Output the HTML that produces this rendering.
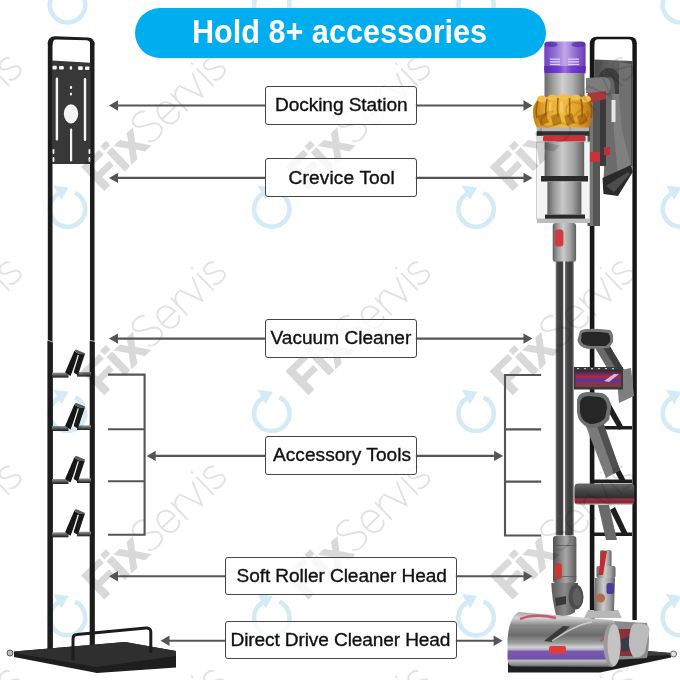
<!DOCTYPE html>
<html><head><meta charset="utf-8">
<style>
html,body{margin:0;padding:0;background:#fff;}
#c{position:relative;width:680px;height:680px;overflow:hidden;background:#fff;font-family:"Liberation Sans",sans-serif;}
svg{position:absolute;left:0;top:0;}
.pill{position:absolute;left:134.5px;top:8px;width:411px;height:50px;border-radius:25px;background:#00adee;}
.pt{position:absolute;left:0;top:0;width:680px;text-align:left;}
.ht{position:absolute;left:192px;top:11px;font-weight:bold;font-size:34px;color:#fff;white-space:nowrap;transform-origin:0 0;transform:scaleX(0.900);line-height:40px;}
.box{position:absolute;box-sizing:border-box;border:1.8px solid #454545;border-radius:3px;background:rgba(255,255,255,0.8);}
.lbl{position:absolute;font-size:19.1px;color:#111;white-space:nowrap;line-height:22px;-webkit-text-stroke:0.35px #111;}
</style></head><body>
<div id="c">
<svg id="bg" width="680" height="680" viewBox="0 0 680 680">
<defs>
 <linearGradient id="shelfg" x1="0" y1="0" x2="0" y2="1"><stop offset="0" stop-color="#9a9a9a"/><stop offset="0.5" stop-color="#5a5a5a"/><stop offset="1" stop-color="#1a1a1a"/></linearGradient>
 <linearGradient id="plateg" x1="0" y1="0" x2="1" y2="0"><stop offset="0" stop-color="#2a2a2a"/><stop offset="0.5" stop-color="#3c3c3c"/><stop offset="1" stop-color="#2c2c2c"/></linearGradient>
 <linearGradient id="baseg" x1="0" y1="0" x2="0" y2="1"><stop offset="0" stop-color="#2e2e2e"/><stop offset="1" stop-color="#1a1a1a"/></linearGradient>
</defs>
<g id="leftstand">
 <!-- frame -->
 <rect x="47.8" y="42" width="4.7" height="609" fill="#1c1c1c"/>
 <rect x="90" y="42" width="4.5" height="605" fill="#1c1c1c"/>
 <path d="M47.8,44 Q47.8,36.2 55,36.2 L88,37.6 Q94.5,38 94.5,45 L90.5,45 Q90.5,40.3 86,40.3 L56,39.5 Q52.5,39.5 52.5,45 Z" fill="#1c1c1c"/>
 <!-- plate -->
 <polygon points="52,60.4 90.5,62.7 90.5,164 52,164" fill="#383838"/>
 <g fill="#f4f4f4">
  <rect x="52.5" y="65.8" width="4.3" height="3.6" rx="1"/>
  <rect x="59" y="66" width="4.8" height="3.6" rx="1"/>
  <ellipse cx="70.9" cy="67.9" rx="1.3" ry="1.9"/>
  <rect x="78" y="66.3" width="4.8" height="3.6" rx="1"/>
  <rect x="85" y="66.5" width="4.4" height="3.6" rx="1"/>
  <rect x="55.7" y="77.5" width="2.4" height="63" rx="1.2"/>
  <rect x="83.8" y="78" width="2.4" height="63" rx="1.2"/>
  <ellipse cx="71" cy="87.4" rx="1.1" ry="1.6"/>
  <ellipse cx="71" cy="94" rx="1.1" ry="1.6"/>
  <ellipse cx="71" cy="113.8" rx="7.2" ry="9.6"/>
  <rect x="70" y="128.5" width="2.2" height="33" rx="1.1"/>
  <rect x="52.6" y="149" width="1.8" height="5" rx="0.9"/>
  <rect x="52.6" y="157" width="1.8" height="5" rx="0.9"/>
  <rect x="88.5" y="149" width="1.8" height="5" rx="0.9"/>
  <rect x="88.5" y="157" width="1.8" height="5" rx="0.9"/>
 </g>
 <rect x="47.5" y="341" width="5.3" height="310" fill="#1c1c1c"/>
 <rect x="89.7" y="341" width="5" height="306" fill="#1c1c1c"/>
 <polygon points="47.3,339.8 53.1,341.8 53.1,342.6 47.3,340.6" fill="#e8e8e8"/>
 <polygon points="89.5,339.8 95,341.2 95,342 89.5,340.6" fill="#e8e8e8"/>
 <!-- hooks -->
 <g transform="translate(0,374.8)">
  <rect x="52" y="-2.2" width="16.5" height="5" fill="url(#shelfg)"/>
  <rect x="77" y="-2.8" width="14" height="4.6" fill="url(#shelfg)"/>
  <polygon points="65.1,-2.2 70.5,1.2 79.5,-20.5 74.3,-23.8" fill="#161616"/>
  <polygon points="76.5,-21 84.9,-20.7 77.9,0.4 73.5,-2.2" fill="#1a1a1a"/>
  <line x1="72.2" y1="-0.2" x2="78.3" y2="-19.8" stroke="#f2f2f2" stroke-width="1.3"/>
  <polygon points="74.3,-23.8 76,-25.4 85,-21.6 84.9,-20.6 79.5,-20.5" fill="#5a5a5a"/>
 </g>
 <g transform="translate(0,428.2)">
  <rect x="52" y="-2.2" width="16.5" height="5" fill="url(#shelfg)"/>
  <rect x="77" y="-2.8" width="14" height="4.6" fill="url(#shelfg)"/>
  <polygon points="65.1,-2.2 70.5,1.2 79.5,-20.5 74.3,-23.8" fill="#161616"/>
  <polygon points="76.5,-21 84.9,-20.7 77.9,0.4 73.5,-2.2" fill="#1a1a1a"/>
  <line x1="72.2" y1="-0.2" x2="78.3" y2="-19.8" stroke="#f2f2f2" stroke-width="1.3"/>
  <polygon points="74.3,-23.8 76,-25.4 85,-21.6 84.9,-20.6 79.5,-20.5" fill="#5a5a5a"/>
 </g>
 <g transform="translate(0,481.2)">
  <rect x="52" y="-2.2" width="16.5" height="5" fill="url(#shelfg)"/>
  <rect x="77" y="-2.8" width="14" height="4.6" fill="url(#shelfg)"/>
  <polygon points="65.1,-2.2 70.5,1.2 79.5,-20.5 74.3,-23.8" fill="#161616"/>
  <polygon points="76.5,-21 84.9,-20.7 77.9,0.4 73.5,-2.2" fill="#1a1a1a"/>
  <line x1="72.2" y1="-0.2" x2="78.3" y2="-19.8" stroke="#f2f2f2" stroke-width="1.3"/>
  <polygon points="74.3,-23.8 76,-25.4 85,-21.6 84.9,-20.6 79.5,-20.5" fill="#5a5a5a"/>
 </g>
 <g transform="translate(0,534.5)">
  <rect x="52" y="-2.2" width="16.5" height="5" fill="url(#shelfg)"/>
  <rect x="77" y="-2.8" width="14" height="4.6" fill="url(#shelfg)"/>
  <polygon points="65.1,-2.2 70.5,1.2 79.5,-20.5 74.3,-23.8" fill="#161616"/>
  <polygon points="76.5,-21 84.9,-20.7 77.9,0.4 73.5,-2.2" fill="#1a1a1a"/>
  <line x1="72.2" y1="-0.2" x2="78.3" y2="-19.8" stroke="#f2f2f2" stroke-width="1.3"/>
  <polygon points="74.3,-23.8 76,-25.4 85,-21.6 84.9,-20.6 79.5,-20.5" fill="#5a5a5a"/>
 </g>
 <!-- base -->
 <polygon points="14,651.5 125,642 176,651 176,667.5 97,673 14,657" fill="#1e1e1e"/>
 <polygon points="14,651.5 125,642 176,651 176,656 97,667 20,654" fill="#2f2f2f"/>
 <circle cx="10" cy="653" r="3" fill="#bbb" stroke="#555" stroke-width="1"/>
 <!-- wire guard -->
 <path d="M73,660 L73,639 Q73,634.8 77,634.6 L146,628 Q150.8,627.8 150.8,632 L150.8,653" fill="none" stroke="#1c1c1c" stroke-width="3"/>
</g>
<defs>
 <linearGradient id="gcyl" x1="0" y1="0" x2="1" y2="0">
  <stop offset="0" stop-color="#6a6a6a"/><stop offset="0.2" stop-color="#9a9a9a"/><stop offset="0.45" stop-color="#d0d0d0"/><stop offset="0.7" stop-color="#b0b0b0"/><stop offset="1" stop-color="#6a6a6a"/>
 </linearGradient>
 <linearGradient id="gcyl2" x1="0" y1="0" x2="1" y2="0">
  <stop offset="0" stop-color="#606060"/><stop offset="0.2" stop-color="#9a9a9a"/><stop offset="0.45" stop-color="#cacaca"/><stop offset="0.75" stop-color="#a0a0a0"/><stop offset="1" stop-color="#5e5e5e"/>
 </linearGradient>
 <linearGradient id="gpur" x1="0" y1="0" x2="1" y2="0">
  <stop offset="0" stop-color="#7040c0"/><stop offset="0.3" stop-color="#9a78d8"/><stop offset="0.5" stop-color="#c0a8e8"/><stop offset="0.7" stop-color="#9a78d8"/><stop offset="1" stop-color="#6a3ab8"/>
 </linearGradient>
 <linearGradient id="gpur2" x1="0" y1="0" x2="1" y2="0">
  <stop offset="0" stop-color="#5a28b0"/><stop offset="0.35" stop-color="#7a3ad8"/><stop offset="0.5" stop-color="#a070e0"/><stop offset="0.65" stop-color="#7a3ad8"/><stop offset="1" stop-color="#5a28b0"/>
 </linearGradient>
 <linearGradient id="ggold" x1="0" y1="0" x2="1" y2="0">
  <stop offset="0" stop-color="#c08018"/><stop offset="0.2" stop-color="#e8a52a"/><stop offset="0.5" stop-color="#f0bc40"/><stop offset="0.8" stop-color="#e09a22"/><stop offset="1" stop-color="#b07014"/>
 </linearGradient>
 <linearGradient id="gwand" x1="0" y1="0" x2="1" y2="0">
  <stop offset="0" stop-color="#9a9a9a"/><stop offset="0.08" stop-color="#4a4a4c"/><stop offset="0.3" stop-color="#3c3c3e"/><stop offset="0.4" stop-color="#4a4a4a"/><stop offset="0.44" stop-color="#e0e0e0"/><stop offset="0.51" stop-color="#f4f4f4"/><stop offset="0.55" stop-color="#555"/><stop offset="0.7" stop-color="#434345"/><stop offset="0.9" stop-color="#3a3a3a"/><stop offset="1" stop-color="#8a8a8a"/>
 </linearGradient>
 <linearGradient id="gplate" x1="0" y1="0" x2="1" y2="0">
  <stop offset="0" stop-color="#4a4a4a"/><stop offset="0.5" stop-color="#656565"/><stop offset="1" stop-color="#505050"/>
 </linearGradient>
 <linearGradient id="gbrush" x1="0" y1="0" x2="0" y2="1">
  <stop offset="0" stop-color="#2a2a34"/><stop offset="0.2" stop-color="#6a2a50"/><stop offset="0.4" stop-color="#b02848"/><stop offset="0.6" stop-color="#4a3aa0"/><stop offset="0.8" stop-color="#a02a44"/><stop offset="1" stop-color="#5a4a4a"/>
 </linearGradient>
 <linearGradient id="gflat" x1="0" y1="0" x2="0" y2="1">
  <stop offset="0" stop-color="#6a6a6a"/><stop offset="0.3" stop-color="#4a4a4a"/><stop offset="0.68" stop-color="#2e2e2e"/><stop offset="0.72" stop-color="#9a3040"/><stop offset="0.9" stop-color="#8a2535"/><stop offset="1" stop-color="#c0c0c0"/>
 </linearGradient>
 <linearGradient id="ghead" x1="0" y1="0" x2="0" y2="1">
  <stop offset="0" stop-color="#a8a8a8"/><stop offset="0.11" stop-color="#d4d4d4"/><stop offset="0.24" stop-color="#8a8a8a"/><stop offset="0.42" stop-color="#6c6c6c"/><stop offset="0.56" stop-color="#9a9a9a"/><stop offset="0.64" stop-color="#d2d2d2"/><stop offset="0.69" stop-color="#b0a8c8"/><stop offset="0.71" stop-color="#7a5ab0"/><stop offset="0.855" stop-color="#7050a8"/><stop offset="0.875" stop-color="#c0c0c0"/><stop offset="0.96" stop-color="#8a8a8a"/><stop offset="1" stop-color="#555"/>
 </linearGradient>
 <linearGradient id="gtool2" x1="0" y1="0" x2="1" y2="0"><stop offset="0" stop-color="#4e4e4e"/><stop offset="0.35" stop-color="#8a8a8a"/><stop offset="0.55" stop-color="#a8a8a8"/><stop offset="1" stop-color="#5a5a5a"/></linearGradient>
 <linearGradient id="gtool" x1="0" y1="0" x2="1" y2="0">
  <stop offset="0" stop-color="#5a5a5a"/><stop offset="0.5" stop-color="#8a8a8a"/><stop offset="1" stop-color="#4a4a4a"/>
 </linearGradient>
</defs>
<g id="rightstand">
 <!-- docking plate -->
 <polygon points="594.4,59.5 632.4,61 632.4,166 594.4,166" fill="url(#gplate)"/>
 <path d="M597,122 L597,90 Q597,68 609,68 Q621,68 621,90 L621,122 L615,122 L615,92 Q615,77 609,77 Q603,77 603,92 L603,122 Z" fill="#3e3e3e"/>
 <polygon points="619,62 631,64 631,166 619,152" fill="#707070"/>
 <!-- stand frame -->
 <rect x="589.8" y="43" width="4.6" height="577" fill="#161616"/>
 <rect x="632.4" y="43" width="4.4" height="577" fill="#161616"/>
 <path d="M589.8,44 Q589.8,36.7 597,36.7 L630,36.7 Q636.8,36.7 636.8,44 L632.4,44 Q632.4,39.2 628.5,39.2 L598,39.2 Q594.4,39.2 594.4,44 Z" fill="#161616"/>
 <!-- hook shelves -->
 <g fill="#1e1e1e">
  <rect x="594" y="426" width="38" height="3.5"/>
  <rect x="594" y="479.5" width="38" height="3.5"/>
  <rect x="594" y="532.5" width="38" height="3.5"/>
  <polygon points="604,404 609,401 624,428 619,430"/>
  <polygon points="607,457 612,454 626,481 621,483"/>
  <polygon points="610,510 615,507 628,534 623,536"/>
 </g>
 <!-- base plate -->
 <polygon points="508,661 620,652 641,650.5 671,653 671,657.5 600,672.5 508,672.5" fill="#1e1e1e"/>
 <polygon points="620,652 641,650.5 671,653 671,655 620,657" fill="#3c3c3c"/>
 <circle cx="673.5" cy="654" r="3" fill="#e0e0e0" stroke="#666" stroke-width="1"/>
</g>
<g id="accessories">
 <!-- crevice tool in dock -->
 <polygon points="606,94 619,94 622,130 631.5,168 603,190 606,132" fill="#6c6c6c"/>
 <polygon points="612,94 619,94 622,130 631.5,168 618,176 614,132" fill="#808080"/>
 <rect x="611.5" y="100" width="4" height="22" fill="#e6e6e6"/>
 <polygon points="602.5,178 631,165 632.8,172 618,196 603.5,194" fill="#2a2a2a"/>
 <polygon points="606,186 628,172 630,174 614,192" fill="#666" opacity="0.6"/>
 <!-- handle -->
 <rect x="587.5" y="94" width="12.5" height="132" fill="#555"/>
 <rect x="590" y="94" width="3" height="132" fill="#777"/>
 <rect x="600" y="96" width="6" height="70" fill="#3a3a3a"/>
 <path d="M586,78 L604,77 Q611,78 611,86 L609,93 L586,93 Z" fill="#7c7c7c"/>
 <polygon points="588,93 606,91 606,99 588,103" fill="#a8383e"/>
 <rect x="589" y="152" width="11" height="10" fill="#c8323a"/>
 <rect x="604" y="147" width="6" height="8" fill="#b8323a"/>
 <!-- tool 1: mini motorised -->
 <polygon points="594,346 608,343 624,370 610,373" fill="#6a6a6a"/>
 <polygon points="602,346 608,343 624,370 618,372" fill="#3e3e3e"/>
 <polygon points="616,371 631,368 634,396 619,403" fill="#7e7e7e"/>
 <path d="M580,331 Q584,328 600,329 L610,330 Q614,333 613,342 L609,348 L588,349 Q578,347 577.5,340 Z" fill="#777"/>
 <path d="M582,333 Q586,331 600,332 L608,333 Q611,336 610,342 L606,346 L590,346 Q581,345 581,340 Z" fill="#262626"/>
 <rect x="573.8" y="367" width="49.2" height="22.5" fill="#3a3a3a"/>
 <rect x="575.5" y="370" width="45.5" height="17" fill="url(#gbrush)"/>
 <polygon points="604,381 614,374 619,374 609,382" fill="#f0e8f8" opacity="0.75"/>
 <g fill="#e8e8e8" opacity="0.8"><rect x="577" y="368" width="2" height="1.2"/><rect x="584" y="368" width="2" height="1.2"/><rect x="591" y="368" width="2" height="1.2"/><rect x="598" y="368" width="2" height="1.2"/><rect x="605" y="368" width="2" height="1.2"/><rect x="612" y="368" width="2" height="1.2"/></g>
 <!-- tool 2: combination -->
 <polygon points="582,416 598,408 620,470 606,478" fill="#7a7a7a"/>
 <polygon points="592,412 598,408 620,470 614,474" fill="#505050"/>
 <path d="M577,402 Q577,392 588,392 L602,393 Q611,396 611,408 L609,420 Q602,428 590,428 Q578,424 577,412 Z" fill="#6e6e6e"/>
 <path d="M580,404 Q580,396 589,396 L600,397 Q607,399 607,408 L605,418 Q600,424 590,424 Q581,421 580,412 Z" fill="#262626"/>
 <!-- flat brush -->
 <polygon points="598,505 609,505 617,540 606,540" fill="#6a6a6a"/>
 <rect x="574.4" y="483.5" width="60" height="21.2" rx="4" fill="url(#gflat)"/>
 <!-- mini soft roller neck -->
 <path d="M584,618 L588,610 L618,610 L622,618 Z" fill="#b8b8b8"/>
 <rect x="600" y="550" width="11.5" height="18" rx="2" fill="url(#gcyl2)"/>
 <rect x="596.5" y="566" width="19" height="12" rx="2" fill="url(#gcyl2)"/>
 <path d="M595,578 L615,578 L614,611 L594,611 Z" fill="url(#gcyl2)"/>
 <polygon points="601.5,551 607,551 603,575 598.5,575" fill="#c42a30"/>
 <rect x="606.5" y="583" width="7.5" height="11" rx="2.5" fill="#4a3a9a"/>
 <circle cx="600.5" cy="598" r="4.5" fill="#b06a50"/>
</g>
<g id="vacuum">
 <!-- purple cap -->
 <rect x="544.3" y="41.6" width="41.3" height="31.5" rx="3.5" fill="url(#gpur)"/>
 <ellipse cx="551" cy="44.5" rx="6.5" ry="2.8" fill="#5a2aa8" opacity="0.7"/>
 <ellipse cx="578.5" cy="44.5" rx="7" ry="2.8" fill="#5a2aa8" opacity="0.7"/>
 <rect x="544.3" y="66" width="41.3" height="7.3" fill="url(#gpur2)"/>
 <g fill="#e8e0f4" opacity="0.85"><rect x="550" y="58.5" width="10" height="1.3"/><rect x="550" y="61.2" width="10" height="1.3"/><rect x="550" y="63.9" width="10" height="1.1"/><rect x="568" y="58.5" width="11" height="1.3"/><rect x="568" y="61.2" width="11" height="1.3"/><rect x="568" y="63.9" width="11" height="1.1"/></g>
 <!-- upper gray -->
 <rect x="544.5" y="73" width="40" height="24" fill="url(#gcyl)"/>
 <!-- gold cyclone -->
 <path d="M539,97 L589,97 Q594,104 592.5,118 L589,128 L537,128 Q531.5,118 533.5,106 Z" fill="url(#ggold)"/>
 <g fill="#f2c04a">
  <ellipse cx="542" cy="99" rx="5" ry="3.5"/><ellipse cx="552.5" cy="97.5" rx="5" ry="3"/><ellipse cx="564" cy="97" rx="5.5" ry="3"/><ellipse cx="575.5" cy="97.5" rx="5" ry="3"/><ellipse cx="586" cy="99" rx="5" ry="3.5"/>
 </g>
 <g fill="none" stroke="#8a5008" stroke-width="1.6" opacity="0.75">
  <path d="M547,99 Q545,108 546,117"/><path d="M558,98 Q557,108 558,117"/><path d="M569.5,98 Q570,108 569.5,117"/><path d="M581,99 Q583,108 582,117"/>
  <path d="M538,101 Q535,110 537,118"/><path d="M590,101 Q593,110 591,118"/>
 </g>
 <g fill="#9a5a0a" opacity="0.6">
  <path d="M537,116 L545,113 L549,122 L541,126 Z"/><path d="M551,116 L559,113 L562,123 L553,126 Z"/><path d="M564,116 L572,113 L575,123 L567,126 Z"/><path d="M577,116 L585,113 L588,122 L580,126 Z"/>
 </g>
 <g fill="#f6d070" opacity="0.7">
  <rect x="560" y="101" width="3" height="12" rx="1.5"/><rect x="549" y="102" width="2.5" height="11" rx="1.2"/>
 </g>
 <!-- dark ring + red band -->
 <rect x="536.7" y="127.5" width="52.5" height="4" fill="#b4b4b4"/>
 <rect x="536.7" y="131.2" width="52.5" height="4.6" fill="#303030"/>
 <rect x="543" y="135.6" width="42.7" height="6.4" rx="2" fill="#c8323a"/>
 <!-- bin -->
 <rect x="536.5" y="142" width="53" height="77" fill="#f4f4f4" stroke="#d0d0d0" stroke-width="1"/>
 <rect x="544.6" y="142" width="39.6" height="34" fill="url(#gcyl2)"/>
 <rect x="541" y="176" width="47" height="5.5" fill="#2a2a2a"/>
 <rect x="547.4" y="181.5" width="34" height="33" fill="url(#gcyl2)"/>
 <rect x="545" y="214.5" width="40" height="4.3" fill="#2a2a2a"/>
 <rect x="537" y="218.8" width="53" height="4.2" fill="#bdbdbd"/>
 <!-- trigger body -->
 <rect x="552.7" y="223" width="23.4" height="39" rx="3" fill="url(#gcyl2)"/>
 <rect x="554.8" y="229.4" width="8.6" height="17" rx="3" fill="#d23a40"/>
 <!-- wand -->
 <rect x="555.6" y="261.5" width="18.2" height="274" fill="url(#gwand)"/>
 <!-- lower connector -->
 <rect x="553" y="536" width="23.4" height="47" rx="3" fill="url(#gtool2)"/>
 <rect x="553" y="545" width="23.4" height="1" fill="#555" opacity="0.7"/>
 <rect x="553" y="576" width="23.4" height="1" fill="#555" opacity="0.7"/>
 <rect x="554.6" y="563" width="7.2" height="16" rx="3" fill="#c83a30"/>
 <!-- joint -->
 <path d="M551.3,583 L578,583 L575,612 Q570,616 562,616 L556,615 Q552,600 551.3,583 Z" fill="url(#gtool)"/>
 <path d="M555,598 L566,596 L566,604 L556,606 Z" fill="#3a3a3a"/>
 <ellipse cx="576" cy="597" rx="7.5" ry="12.5" fill="#4c4c4c"/>
 <ellipse cx="577" cy="597" rx="4.5" ry="9" fill="#5e5e5e"/>
 <!-- soft roller head behind -->
 <path d="M612,621 L647,623 Q651,640 647,658 L612,660 Z" fill="#8a8a8a"/>
 <path d="M617,629 L632,629 L632,656 L617,656 Z" fill="#8a3038"/>
 <path d="M620,640 L630,636 L630,650 L622,652 Z" fill="#3a3a4a"/>
 <path d="M634,623.5 Q650,622 649.5,630 L645,652 Q642,658 634,657.6 Q628,650 629,640 Q630,626 634,623.5 Z" fill="#bcbcbc"/>
 <!-- direct drive head -->
 <path d="M519,612 Q509,616 507.5,640 L507.5,660 Q508,666.5 514,666.5 L612,667 Q620,665 620,645 Q620,624 612,620 Z" fill="url(#ghead)"/>
 <path d="M544,641 L563,626 L570,626.5 L552,642 Z" fill="#2e2e2e" opacity="0.85"/>
 <path d="M552,641 Q575,625 592,622" stroke="#dcdcdc" stroke-width="1.5" fill="none" opacity="0.8"/>
 <path d="M520,619 Q535,613 556,618" stroke="#c03848" stroke-width="2.5" fill="none" opacity="0.75"/>
 <path d="M600,641 Q606,636 612,638" stroke="#c03848" stroke-width="2" fill="none" opacity="0.6"/>
 <rect x="549" y="646" width="17" height="7.5" rx="2" fill="#e23a3a"/>
 <ellipse cx="612" cy="645" rx="8.5" ry="22" fill="#9a9a9a"/>
 <ellipse cx="614" cy="645" rx="6.5" ry="21" fill="#c4c4c4"/>
</g>
</svg>
<svg id="fg" width="680" height="680" viewBox="0 0 680 680" style="mix-blend-mode:multiply">
<g id="wm" font-family="Liberation Sans, sans-serif">
<g transform="translate(-102.3,-12.3) rotate(-44)"><text x="0" y="0" font-size="46" font-weight="bold" fill="#d9d9d9" stroke="#d9d9d9" stroke-width="1.6">Fix</text><g transform="translate(68,0) scale(1.06)" stroke="#e2e2e2"><path d="M17,-27 C14,-31 3,-32 1.5,-25 C0,-17 19,-16 19,-7.5 C19,1 4,2 1,-4 M24,-10 L41,-10 C41,-18 37,-21.5 32.5,-21.5 C27,-21.5 24,-16.5 24,-10 C24,-3.5 28,0.5 33,0.5 C36,0.5 39,-1 40.5,-4 M47,0.5 L47,-21 M47,-12 C48,-18 51,-21 56,-21 M58,-21 L66.5,0.5 L75,-21 M81,0.5 L81,-21 M81,-28.5 L81,-27.5 M99,-18 C97,-21.5 87,-22.5 87,-16 C87,-10 100,-11 100,-5 C100,1.5 88,1.5 85.5,-3" fill="none" stroke-width="1.8" stroke-linecap="round"/></g></g>
<g transform="translate(-136.8,4.7)"><path d="M7.5,-16 A17.7,17.7 0 1 1 -7.5,-16" fill="none" stroke="#d3eaf7" stroke-width="4.6"/><polygon points="-14.4,-23.6 1,-21.5 -6.1,-9.1" fill="#d3eaf7"/></g>
<g transform="translate(102.0,-12.3) rotate(-44)"><text x="0" y="0" font-size="46" font-weight="bold" fill="#d9d9d9" stroke="#d9d9d9" stroke-width="1.6">Fix</text><g transform="translate(68,0) scale(1.06)" stroke="#e2e2e2"><path d="M17,-27 C14,-31 3,-32 1.5,-25 C0,-17 19,-16 19,-7.5 C19,1 4,2 1,-4 M24,-10 L41,-10 C41,-18 37,-21.5 32.5,-21.5 C27,-21.5 24,-16.5 24,-10 C24,-3.5 28,0.5 33,0.5 C36,0.5 39,-1 40.5,-4 M47,0.5 L47,-21 M47,-12 C48,-18 51,-21 56,-21 M58,-21 L66.5,0.5 L75,-21 M81,0.5 L81,-21 M81,-28.5 L81,-27.5 M99,-18 C97,-21.5 87,-22.5 87,-16 C87,-10 100,-11 100,-5 C100,1.5 88,1.5 85.5,-3" fill="none" stroke-width="1.8" stroke-linecap="round"/></g></g>
<g transform="translate(67.5,4.7)"><path d="M7.5,-16 A17.7,17.7 0 1 1 -7.5,-16" fill="none" stroke="#d3eaf7" stroke-width="4.6"/><polygon points="-14.4,-23.6 1,-21.5 -6.1,-9.1" fill="#d3eaf7"/></g>
<g transform="translate(306.3,-12.3) rotate(-44)"><text x="0" y="0" font-size="46" font-weight="bold" fill="#d9d9d9" stroke="#d9d9d9" stroke-width="1.6">Fix</text><g transform="translate(68,0) scale(1.06)" stroke="#e2e2e2"><path d="M17,-27 C14,-31 3,-32 1.5,-25 C0,-17 19,-16 19,-7.5 C19,1 4,2 1,-4 M24,-10 L41,-10 C41,-18 37,-21.5 32.5,-21.5 C27,-21.5 24,-16.5 24,-10 C24,-3.5 28,0.5 33,0.5 C36,0.5 39,-1 40.5,-4 M47,0.5 L47,-21 M47,-12 C48,-18 51,-21 56,-21 M58,-21 L66.5,0.5 L75,-21 M81,0.5 L81,-21 M81,-28.5 L81,-27.5 M99,-18 C97,-21.5 87,-22.5 87,-16 C87,-10 100,-11 100,-5 C100,1.5 88,1.5 85.5,-3" fill="none" stroke-width="1.8" stroke-linecap="round"/></g></g>
<g transform="translate(271.8,4.7)"><path d="M7.5,-16 A17.7,17.7 0 1 1 -7.5,-16" fill="none" stroke="#d3eaf7" stroke-width="4.6"/><polygon points="-14.4,-23.6 1,-21.5 -6.1,-9.1" fill="#d3eaf7"/></g>
<g transform="translate(510.6,-12.3) rotate(-44)"><text x="0" y="0" font-size="46" font-weight="bold" fill="#d9d9d9" stroke="#d9d9d9" stroke-width="1.6">Fix</text><g transform="translate(68,0) scale(1.06)" stroke="#e2e2e2"><path d="M17,-27 C14,-31 3,-32 1.5,-25 C0,-17 19,-16 19,-7.5 C19,1 4,2 1,-4 M24,-10 L41,-10 C41,-18 37,-21.5 32.5,-21.5 C27,-21.5 24,-16.5 24,-10 C24,-3.5 28,0.5 33,0.5 C36,0.5 39,-1 40.5,-4 M47,0.5 L47,-21 M47,-12 C48,-18 51,-21 56,-21 M58,-21 L66.5,0.5 L75,-21 M81,0.5 L81,-21 M81,-28.5 L81,-27.5 M99,-18 C97,-21.5 87,-22.5 87,-16 C87,-10 100,-11 100,-5 C100,1.5 88,1.5 85.5,-3" fill="none" stroke-width="1.8" stroke-linecap="round"/></g></g>
<g transform="translate(476.1,4.7)"><path d="M7.5,-16 A17.7,17.7 0 1 1 -7.5,-16" fill="none" stroke="#d3eaf7" stroke-width="4.6"/><polygon points="-14.4,-23.6 1,-21.5 -6.1,-9.1" fill="#d3eaf7"/></g>
<g transform="translate(714.9,-12.3) rotate(-44)"><text x="0" y="0" font-size="46" font-weight="bold" fill="#d9d9d9" stroke="#d9d9d9" stroke-width="1.6">Fix</text><g transform="translate(68,0) scale(1.06)" stroke="#e2e2e2"><path d="M17,-27 C14,-31 3,-32 1.5,-25 C0,-17 19,-16 19,-7.5 C19,1 4,2 1,-4 M24,-10 L41,-10 C41,-18 37,-21.5 32.5,-21.5 C27,-21.5 24,-16.5 24,-10 C24,-3.5 28,0.5 33,0.5 C36,0.5 39,-1 40.5,-4 M47,0.5 L47,-21 M47,-12 C48,-18 51,-21 56,-21 M58,-21 L66.5,0.5 L75,-21 M81,0.5 L81,-21 M81,-28.5 L81,-27.5 M99,-18 C97,-21.5 87,-22.5 87,-16 C87,-10 100,-11 100,-5 C100,1.5 88,1.5 85.5,-3" fill="none" stroke-width="1.8" stroke-linecap="round"/></g></g>
<g transform="translate(680.4,4.7)"><path d="M7.5,-16 A17.7,17.7 0 1 1 -7.5,-16" fill="none" stroke="#d3eaf7" stroke-width="4.6"/><polygon points="-14.4,-23.6 1,-21.5 -6.1,-9.1" fill="#d3eaf7"/></g>
<g transform="translate(-102.3,192.0) rotate(-44)"><text x="0" y="0" font-size="46" font-weight="bold" fill="#d9d9d9" stroke="#d9d9d9" stroke-width="1.6">Fix</text><g transform="translate(68,0) scale(1.06)" stroke="#e2e2e2"><path d="M17,-27 C14,-31 3,-32 1.5,-25 C0,-17 19,-16 19,-7.5 C19,1 4,2 1,-4 M24,-10 L41,-10 C41,-18 37,-21.5 32.5,-21.5 C27,-21.5 24,-16.5 24,-10 C24,-3.5 28,0.5 33,0.5 C36,0.5 39,-1 40.5,-4 M47,0.5 L47,-21 M47,-12 C48,-18 51,-21 56,-21 M58,-21 L66.5,0.5 L75,-21 M81,0.5 L81,-21 M81,-28.5 L81,-27.5 M99,-18 C97,-21.5 87,-22.5 87,-16 C87,-10 100,-11 100,-5 C100,1.5 88,1.5 85.5,-3" fill="none" stroke-width="1.8" stroke-linecap="round"/></g></g>
<g transform="translate(-136.8,209.0)"><path d="M7.5,-16 A17.7,17.7 0 1 1 -7.5,-16" fill="none" stroke="#d3eaf7" stroke-width="4.6"/><polygon points="-14.4,-23.6 1,-21.5 -6.1,-9.1" fill="#d3eaf7"/></g>
<g transform="translate(102.0,192.0) rotate(-44)"><text x="0" y="0" font-size="46" font-weight="bold" fill="#d9d9d9" stroke="#d9d9d9" stroke-width="1.6">Fix</text><g transform="translate(68,0) scale(1.06)" stroke="#e2e2e2"><path d="M17,-27 C14,-31 3,-32 1.5,-25 C0,-17 19,-16 19,-7.5 C19,1 4,2 1,-4 M24,-10 L41,-10 C41,-18 37,-21.5 32.5,-21.5 C27,-21.5 24,-16.5 24,-10 C24,-3.5 28,0.5 33,0.5 C36,0.5 39,-1 40.5,-4 M47,0.5 L47,-21 M47,-12 C48,-18 51,-21 56,-21 M58,-21 L66.5,0.5 L75,-21 M81,0.5 L81,-21 M81,-28.5 L81,-27.5 M99,-18 C97,-21.5 87,-22.5 87,-16 C87,-10 100,-11 100,-5 C100,1.5 88,1.5 85.5,-3" fill="none" stroke-width="1.8" stroke-linecap="round"/></g></g>
<g transform="translate(67.5,209.0)"><path d="M7.5,-16 A17.7,17.7 0 1 1 -7.5,-16" fill="none" stroke="#d3eaf7" stroke-width="4.6"/><polygon points="-14.4,-23.6 1,-21.5 -6.1,-9.1" fill="#d3eaf7"/></g>
<g transform="translate(306.3,192.0) rotate(-44)"><text x="0" y="0" font-size="46" font-weight="bold" fill="#d9d9d9" stroke="#d9d9d9" stroke-width="1.6">Fix</text><g transform="translate(68,0) scale(1.06)" stroke="#e2e2e2"><path d="M17,-27 C14,-31 3,-32 1.5,-25 C0,-17 19,-16 19,-7.5 C19,1 4,2 1,-4 M24,-10 L41,-10 C41,-18 37,-21.5 32.5,-21.5 C27,-21.5 24,-16.5 24,-10 C24,-3.5 28,0.5 33,0.5 C36,0.5 39,-1 40.5,-4 M47,0.5 L47,-21 M47,-12 C48,-18 51,-21 56,-21 M58,-21 L66.5,0.5 L75,-21 M81,0.5 L81,-21 M81,-28.5 L81,-27.5 M99,-18 C97,-21.5 87,-22.5 87,-16 C87,-10 100,-11 100,-5 C100,1.5 88,1.5 85.5,-3" fill="none" stroke-width="1.8" stroke-linecap="round"/></g></g>
<g transform="translate(271.8,209.0)"><path d="M7.5,-16 A17.7,17.7 0 1 1 -7.5,-16" fill="none" stroke="#d3eaf7" stroke-width="4.6"/><polygon points="-14.4,-23.6 1,-21.5 -6.1,-9.1" fill="#d3eaf7"/></g>
<g transform="translate(510.6,192.0) rotate(-44)"><text x="0" y="0" font-size="46" font-weight="bold" fill="#d9d9d9" stroke="#d9d9d9" stroke-width="1.6">Fix</text><g transform="translate(68,0) scale(1.06)" stroke="#e2e2e2"><path d="M17,-27 C14,-31 3,-32 1.5,-25 C0,-17 19,-16 19,-7.5 C19,1 4,2 1,-4 M24,-10 L41,-10 C41,-18 37,-21.5 32.5,-21.5 C27,-21.5 24,-16.5 24,-10 C24,-3.5 28,0.5 33,0.5 C36,0.5 39,-1 40.5,-4 M47,0.5 L47,-21 M47,-12 C48,-18 51,-21 56,-21 M58,-21 L66.5,0.5 L75,-21 M81,0.5 L81,-21 M81,-28.5 L81,-27.5 M99,-18 C97,-21.5 87,-22.5 87,-16 C87,-10 100,-11 100,-5 C100,1.5 88,1.5 85.5,-3" fill="none" stroke-width="1.8" stroke-linecap="round"/></g></g>
<g transform="translate(476.1,209.0)"><path d="M7.5,-16 A17.7,17.7 0 1 1 -7.5,-16" fill="none" stroke="#d3eaf7" stroke-width="4.6"/><polygon points="-14.4,-23.6 1,-21.5 -6.1,-9.1" fill="#d3eaf7"/></g>
<g transform="translate(714.9,192.0) rotate(-44)"><text x="0" y="0" font-size="46" font-weight="bold" fill="#d9d9d9" stroke="#d9d9d9" stroke-width="1.6">Fix</text><g transform="translate(68,0) scale(1.06)" stroke="#e2e2e2"><path d="M17,-27 C14,-31 3,-32 1.5,-25 C0,-17 19,-16 19,-7.5 C19,1 4,2 1,-4 M24,-10 L41,-10 C41,-18 37,-21.5 32.5,-21.5 C27,-21.5 24,-16.5 24,-10 C24,-3.5 28,0.5 33,0.5 C36,0.5 39,-1 40.5,-4 M47,0.5 L47,-21 M47,-12 C48,-18 51,-21 56,-21 M58,-21 L66.5,0.5 L75,-21 M81,0.5 L81,-21 M81,-28.5 L81,-27.5 M99,-18 C97,-21.5 87,-22.5 87,-16 C87,-10 100,-11 100,-5 C100,1.5 88,1.5 85.5,-3" fill="none" stroke-width="1.8" stroke-linecap="round"/></g></g>
<g transform="translate(680.4,209.0)"><path d="M7.5,-16 A17.7,17.7 0 1 1 -7.5,-16" fill="none" stroke="#d3eaf7" stroke-width="4.6"/><polygon points="-14.4,-23.6 1,-21.5 -6.1,-9.1" fill="#d3eaf7"/></g>
<g transform="translate(-102.3,396.3) rotate(-44)"><text x="0" y="0" font-size="46" font-weight="bold" fill="#d9d9d9" stroke="#d9d9d9" stroke-width="1.6">Fix</text><g transform="translate(68,0) scale(1.06)" stroke="#e2e2e2"><path d="M17,-27 C14,-31 3,-32 1.5,-25 C0,-17 19,-16 19,-7.5 C19,1 4,2 1,-4 M24,-10 L41,-10 C41,-18 37,-21.5 32.5,-21.5 C27,-21.5 24,-16.5 24,-10 C24,-3.5 28,0.5 33,0.5 C36,0.5 39,-1 40.5,-4 M47,0.5 L47,-21 M47,-12 C48,-18 51,-21 56,-21 M58,-21 L66.5,0.5 L75,-21 M81,0.5 L81,-21 M81,-28.5 L81,-27.5 M99,-18 C97,-21.5 87,-22.5 87,-16 C87,-10 100,-11 100,-5 C100,1.5 88,1.5 85.5,-3" fill="none" stroke-width="1.8" stroke-linecap="round"/></g></g>
<g transform="translate(-136.8,413.3)"><path d="M7.5,-16 A17.7,17.7 0 1 1 -7.5,-16" fill="none" stroke="#d3eaf7" stroke-width="4.6"/><polygon points="-14.4,-23.6 1,-21.5 -6.1,-9.1" fill="#d3eaf7"/></g>
<g transform="translate(102.0,396.3) rotate(-44)"><text x="0" y="0" font-size="46" font-weight="bold" fill="#d9d9d9" stroke="#d9d9d9" stroke-width="1.6">Fix</text><g transform="translate(68,0) scale(1.06)" stroke="#e2e2e2"><path d="M17,-27 C14,-31 3,-32 1.5,-25 C0,-17 19,-16 19,-7.5 C19,1 4,2 1,-4 M24,-10 L41,-10 C41,-18 37,-21.5 32.5,-21.5 C27,-21.5 24,-16.5 24,-10 C24,-3.5 28,0.5 33,0.5 C36,0.5 39,-1 40.5,-4 M47,0.5 L47,-21 M47,-12 C48,-18 51,-21 56,-21 M58,-21 L66.5,0.5 L75,-21 M81,0.5 L81,-21 M81,-28.5 L81,-27.5 M99,-18 C97,-21.5 87,-22.5 87,-16 C87,-10 100,-11 100,-5 C100,1.5 88,1.5 85.5,-3" fill="none" stroke-width="1.8" stroke-linecap="round"/></g></g>
<g transform="translate(67.5,413.3)"><path d="M7.5,-16 A17.7,17.7 0 1 1 -7.5,-16" fill="none" stroke="#d3eaf7" stroke-width="4.6"/><polygon points="-14.4,-23.6 1,-21.5 -6.1,-9.1" fill="#d3eaf7"/></g>
<g transform="translate(306.3,396.3) rotate(-44)"><text x="0" y="0" font-size="46" font-weight="bold" fill="#d9d9d9" stroke="#d9d9d9" stroke-width="1.6">Fix</text><g transform="translate(68,0) scale(1.06)" stroke="#e2e2e2"><path d="M17,-27 C14,-31 3,-32 1.5,-25 C0,-17 19,-16 19,-7.5 C19,1 4,2 1,-4 M24,-10 L41,-10 C41,-18 37,-21.5 32.5,-21.5 C27,-21.5 24,-16.5 24,-10 C24,-3.5 28,0.5 33,0.5 C36,0.5 39,-1 40.5,-4 M47,0.5 L47,-21 M47,-12 C48,-18 51,-21 56,-21 M58,-21 L66.5,0.5 L75,-21 M81,0.5 L81,-21 M81,-28.5 L81,-27.5 M99,-18 C97,-21.5 87,-22.5 87,-16 C87,-10 100,-11 100,-5 C100,1.5 88,1.5 85.5,-3" fill="none" stroke-width="1.8" stroke-linecap="round"/></g></g>
<g transform="translate(271.8,413.3)"><path d="M7.5,-16 A17.7,17.7 0 1 1 -7.5,-16" fill="none" stroke="#d3eaf7" stroke-width="4.6"/><polygon points="-14.4,-23.6 1,-21.5 -6.1,-9.1" fill="#d3eaf7"/></g>
<g transform="translate(510.6,396.3) rotate(-44)"><text x="0" y="0" font-size="46" font-weight="bold" fill="#d9d9d9" stroke="#d9d9d9" stroke-width="1.6">Fix</text><g transform="translate(68,0) scale(1.06)" stroke="#e2e2e2"><path d="M17,-27 C14,-31 3,-32 1.5,-25 C0,-17 19,-16 19,-7.5 C19,1 4,2 1,-4 M24,-10 L41,-10 C41,-18 37,-21.5 32.5,-21.5 C27,-21.5 24,-16.5 24,-10 C24,-3.5 28,0.5 33,0.5 C36,0.5 39,-1 40.5,-4 M47,0.5 L47,-21 M47,-12 C48,-18 51,-21 56,-21 M58,-21 L66.5,0.5 L75,-21 M81,0.5 L81,-21 M81,-28.5 L81,-27.5 M99,-18 C97,-21.5 87,-22.5 87,-16 C87,-10 100,-11 100,-5 C100,1.5 88,1.5 85.5,-3" fill="none" stroke-width="1.8" stroke-linecap="round"/></g></g>
<g transform="translate(476.1,413.3)"><path d="M7.5,-16 A17.7,17.7 0 1 1 -7.5,-16" fill="none" stroke="#d3eaf7" stroke-width="4.6"/><polygon points="-14.4,-23.6 1,-21.5 -6.1,-9.1" fill="#d3eaf7"/></g>
<g transform="translate(714.9,396.3) rotate(-44)"><text x="0" y="0" font-size="46" font-weight="bold" fill="#d9d9d9" stroke="#d9d9d9" stroke-width="1.6">Fix</text><g transform="translate(68,0) scale(1.06)" stroke="#e2e2e2"><path d="M17,-27 C14,-31 3,-32 1.5,-25 C0,-17 19,-16 19,-7.5 C19,1 4,2 1,-4 M24,-10 L41,-10 C41,-18 37,-21.5 32.5,-21.5 C27,-21.5 24,-16.5 24,-10 C24,-3.5 28,0.5 33,0.5 C36,0.5 39,-1 40.5,-4 M47,0.5 L47,-21 M47,-12 C48,-18 51,-21 56,-21 M58,-21 L66.5,0.5 L75,-21 M81,0.5 L81,-21 M81,-28.5 L81,-27.5 M99,-18 C97,-21.5 87,-22.5 87,-16 C87,-10 100,-11 100,-5 C100,1.5 88,1.5 85.5,-3" fill="none" stroke-width="1.8" stroke-linecap="round"/></g></g>
<g transform="translate(680.4,413.3)"><path d="M7.5,-16 A17.7,17.7 0 1 1 -7.5,-16" fill="none" stroke="#d3eaf7" stroke-width="4.6"/><polygon points="-14.4,-23.6 1,-21.5 -6.1,-9.1" fill="#d3eaf7"/></g>
<g transform="translate(-102.3,600.6) rotate(-44)"><text x="0" y="0" font-size="46" font-weight="bold" fill="#d9d9d9" stroke="#d9d9d9" stroke-width="1.6">Fix</text><g transform="translate(68,0) scale(1.06)" stroke="#e2e2e2"><path d="M17,-27 C14,-31 3,-32 1.5,-25 C0,-17 19,-16 19,-7.5 C19,1 4,2 1,-4 M24,-10 L41,-10 C41,-18 37,-21.5 32.5,-21.5 C27,-21.5 24,-16.5 24,-10 C24,-3.5 28,0.5 33,0.5 C36,0.5 39,-1 40.5,-4 M47,0.5 L47,-21 M47,-12 C48,-18 51,-21 56,-21 M58,-21 L66.5,0.5 L75,-21 M81,0.5 L81,-21 M81,-28.5 L81,-27.5 M99,-18 C97,-21.5 87,-22.5 87,-16 C87,-10 100,-11 100,-5 C100,1.5 88,1.5 85.5,-3" fill="none" stroke-width="1.8" stroke-linecap="round"/></g></g>
<g transform="translate(-136.8,617.6)"><path d="M7.5,-16 A17.7,17.7 0 1 1 -7.5,-16" fill="none" stroke="#d3eaf7" stroke-width="4.6"/><polygon points="-14.4,-23.6 1,-21.5 -6.1,-9.1" fill="#d3eaf7"/></g>
<g transform="translate(102.0,600.6) rotate(-44)"><text x="0" y="0" font-size="46" font-weight="bold" fill="#d9d9d9" stroke="#d9d9d9" stroke-width="1.6">Fix</text><g transform="translate(68,0) scale(1.06)" stroke="#e2e2e2"><path d="M17,-27 C14,-31 3,-32 1.5,-25 C0,-17 19,-16 19,-7.5 C19,1 4,2 1,-4 M24,-10 L41,-10 C41,-18 37,-21.5 32.5,-21.5 C27,-21.5 24,-16.5 24,-10 C24,-3.5 28,0.5 33,0.5 C36,0.5 39,-1 40.5,-4 M47,0.5 L47,-21 M47,-12 C48,-18 51,-21 56,-21 M58,-21 L66.5,0.5 L75,-21 M81,0.5 L81,-21 M81,-28.5 L81,-27.5 M99,-18 C97,-21.5 87,-22.5 87,-16 C87,-10 100,-11 100,-5 C100,1.5 88,1.5 85.5,-3" fill="none" stroke-width="1.8" stroke-linecap="round"/></g></g>
<g transform="translate(67.5,617.6)"><path d="M7.5,-16 A17.7,17.7 0 1 1 -7.5,-16" fill="none" stroke="#d3eaf7" stroke-width="4.6"/><polygon points="-14.4,-23.6 1,-21.5 -6.1,-9.1" fill="#d3eaf7"/></g>
<g transform="translate(306.3,600.6) rotate(-44)"><text x="0" y="0" font-size="46" font-weight="bold" fill="#d9d9d9" stroke="#d9d9d9" stroke-width="1.6">Fix</text><g transform="translate(68,0) scale(1.06)" stroke="#e2e2e2"><path d="M17,-27 C14,-31 3,-32 1.5,-25 C0,-17 19,-16 19,-7.5 C19,1 4,2 1,-4 M24,-10 L41,-10 C41,-18 37,-21.5 32.5,-21.5 C27,-21.5 24,-16.5 24,-10 C24,-3.5 28,0.5 33,0.5 C36,0.5 39,-1 40.5,-4 M47,0.5 L47,-21 M47,-12 C48,-18 51,-21 56,-21 M58,-21 L66.5,0.5 L75,-21 M81,0.5 L81,-21 M81,-28.5 L81,-27.5 M99,-18 C97,-21.5 87,-22.5 87,-16 C87,-10 100,-11 100,-5 C100,1.5 88,1.5 85.5,-3" fill="none" stroke-width="1.8" stroke-linecap="round"/></g></g>
<g transform="translate(271.8,617.6)"><path d="M7.5,-16 A17.7,17.7 0 1 1 -7.5,-16" fill="none" stroke="#d3eaf7" stroke-width="4.6"/><polygon points="-14.4,-23.6 1,-21.5 -6.1,-9.1" fill="#d3eaf7"/></g>
<g transform="translate(510.6,600.6) rotate(-44)"><text x="0" y="0" font-size="46" font-weight="bold" fill="#d9d9d9" stroke="#d9d9d9" stroke-width="1.6">Fix</text><g transform="translate(68,0) scale(1.06)" stroke="#e2e2e2"><path d="M17,-27 C14,-31 3,-32 1.5,-25 C0,-17 19,-16 19,-7.5 C19,1 4,2 1,-4 M24,-10 L41,-10 C41,-18 37,-21.5 32.5,-21.5 C27,-21.5 24,-16.5 24,-10 C24,-3.5 28,0.5 33,0.5 C36,0.5 39,-1 40.5,-4 M47,0.5 L47,-21 M47,-12 C48,-18 51,-21 56,-21 M58,-21 L66.5,0.5 L75,-21 M81,0.5 L81,-21 M81,-28.5 L81,-27.5 M99,-18 C97,-21.5 87,-22.5 87,-16 C87,-10 100,-11 100,-5 C100,1.5 88,1.5 85.5,-3" fill="none" stroke-width="1.8" stroke-linecap="round"/></g></g>
<g transform="translate(476.1,617.6)"><path d="M7.5,-16 A17.7,17.7 0 1 1 -7.5,-16" fill="none" stroke="#d3eaf7" stroke-width="4.6"/><polygon points="-14.4,-23.6 1,-21.5 -6.1,-9.1" fill="#d3eaf7"/></g>
<g transform="translate(714.9,600.6) rotate(-44)"><text x="0" y="0" font-size="46" font-weight="bold" fill="#d9d9d9" stroke="#d9d9d9" stroke-width="1.6">Fix</text><g transform="translate(68,0) scale(1.06)" stroke="#e2e2e2"><path d="M17,-27 C14,-31 3,-32 1.5,-25 C0,-17 19,-16 19,-7.5 C19,1 4,2 1,-4 M24,-10 L41,-10 C41,-18 37,-21.5 32.5,-21.5 C27,-21.5 24,-16.5 24,-10 C24,-3.5 28,0.5 33,0.5 C36,0.5 39,-1 40.5,-4 M47,0.5 L47,-21 M47,-12 C48,-18 51,-21 56,-21 M58,-21 L66.5,0.5 L75,-21 M81,0.5 L81,-21 M81,-28.5 L81,-27.5 M99,-18 C97,-21.5 87,-22.5 87,-16 C87,-10 100,-11 100,-5 C100,1.5 88,1.5 85.5,-3" fill="none" stroke-width="1.8" stroke-linecap="round"/></g></g>
<g transform="translate(680.4,617.6)"><path d="M7.5,-16 A17.7,17.7 0 1 1 -7.5,-16" fill="none" stroke="#d3eaf7" stroke-width="4.6"/><polygon points="-14.4,-23.6 1,-21.5 -6.1,-9.1" fill="#d3eaf7"/></g>
<g transform="translate(-102.3,804.9) rotate(-44)"><text x="0" y="0" font-size="46" font-weight="bold" fill="#d9d9d9" stroke="#d9d9d9" stroke-width="1.6">Fix</text><g transform="translate(68,0) scale(1.06)" stroke="#e2e2e2"><path d="M17,-27 C14,-31 3,-32 1.5,-25 C0,-17 19,-16 19,-7.5 C19,1 4,2 1,-4 M24,-10 L41,-10 C41,-18 37,-21.5 32.5,-21.5 C27,-21.5 24,-16.5 24,-10 C24,-3.5 28,0.5 33,0.5 C36,0.5 39,-1 40.5,-4 M47,0.5 L47,-21 M47,-12 C48,-18 51,-21 56,-21 M58,-21 L66.5,0.5 L75,-21 M81,0.5 L81,-21 M81,-28.5 L81,-27.5 M99,-18 C97,-21.5 87,-22.5 87,-16 C87,-10 100,-11 100,-5 C100,1.5 88,1.5 85.5,-3" fill="none" stroke-width="1.8" stroke-linecap="round"/></g></g>
<g transform="translate(-136.8,821.9)"><path d="M7.5,-16 A17.7,17.7 0 1 1 -7.5,-16" fill="none" stroke="#d3eaf7" stroke-width="4.6"/><polygon points="-14.4,-23.6 1,-21.5 -6.1,-9.1" fill="#d3eaf7"/></g>
<g transform="translate(102.0,804.9) rotate(-44)"><text x="0" y="0" font-size="46" font-weight="bold" fill="#d9d9d9" stroke="#d9d9d9" stroke-width="1.6">Fix</text><g transform="translate(68,0) scale(1.06)" stroke="#e2e2e2"><path d="M17,-27 C14,-31 3,-32 1.5,-25 C0,-17 19,-16 19,-7.5 C19,1 4,2 1,-4 M24,-10 L41,-10 C41,-18 37,-21.5 32.5,-21.5 C27,-21.5 24,-16.5 24,-10 C24,-3.5 28,0.5 33,0.5 C36,0.5 39,-1 40.5,-4 M47,0.5 L47,-21 M47,-12 C48,-18 51,-21 56,-21 M58,-21 L66.5,0.5 L75,-21 M81,0.5 L81,-21 M81,-28.5 L81,-27.5 M99,-18 C97,-21.5 87,-22.5 87,-16 C87,-10 100,-11 100,-5 C100,1.5 88,1.5 85.5,-3" fill="none" stroke-width="1.8" stroke-linecap="round"/></g></g>
<g transform="translate(67.5,821.9)"><path d="M7.5,-16 A17.7,17.7 0 1 1 -7.5,-16" fill="none" stroke="#d3eaf7" stroke-width="4.6"/><polygon points="-14.4,-23.6 1,-21.5 -6.1,-9.1" fill="#d3eaf7"/></g>
<g transform="translate(306.3,804.9) rotate(-44)"><text x="0" y="0" font-size="46" font-weight="bold" fill="#d9d9d9" stroke="#d9d9d9" stroke-width="1.6">Fix</text><g transform="translate(68,0) scale(1.06)" stroke="#e2e2e2"><path d="M17,-27 C14,-31 3,-32 1.5,-25 C0,-17 19,-16 19,-7.5 C19,1 4,2 1,-4 M24,-10 L41,-10 C41,-18 37,-21.5 32.5,-21.5 C27,-21.5 24,-16.5 24,-10 C24,-3.5 28,0.5 33,0.5 C36,0.5 39,-1 40.5,-4 M47,0.5 L47,-21 M47,-12 C48,-18 51,-21 56,-21 M58,-21 L66.5,0.5 L75,-21 M81,0.5 L81,-21 M81,-28.5 L81,-27.5 M99,-18 C97,-21.5 87,-22.5 87,-16 C87,-10 100,-11 100,-5 C100,1.5 88,1.5 85.5,-3" fill="none" stroke-width="1.8" stroke-linecap="round"/></g></g>
<g transform="translate(271.8,821.9)"><path d="M7.5,-16 A17.7,17.7 0 1 1 -7.5,-16" fill="none" stroke="#d3eaf7" stroke-width="4.6"/><polygon points="-14.4,-23.6 1,-21.5 -6.1,-9.1" fill="#d3eaf7"/></g>
<g transform="translate(510.6,804.9) rotate(-44)"><text x="0" y="0" font-size="46" font-weight="bold" fill="#d9d9d9" stroke="#d9d9d9" stroke-width="1.6">Fix</text><g transform="translate(68,0) scale(1.06)" stroke="#e2e2e2"><path d="M17,-27 C14,-31 3,-32 1.5,-25 C0,-17 19,-16 19,-7.5 C19,1 4,2 1,-4 M24,-10 L41,-10 C41,-18 37,-21.5 32.5,-21.5 C27,-21.5 24,-16.5 24,-10 C24,-3.5 28,0.5 33,0.5 C36,0.5 39,-1 40.5,-4 M47,0.5 L47,-21 M47,-12 C48,-18 51,-21 56,-21 M58,-21 L66.5,0.5 L75,-21 M81,0.5 L81,-21 M81,-28.5 L81,-27.5 M99,-18 C97,-21.5 87,-22.5 87,-16 C87,-10 100,-11 100,-5 C100,1.5 88,1.5 85.5,-3" fill="none" stroke-width="1.8" stroke-linecap="round"/></g></g>
<g transform="translate(476.1,821.9)"><path d="M7.5,-16 A17.7,17.7 0 1 1 -7.5,-16" fill="none" stroke="#d3eaf7" stroke-width="4.6"/><polygon points="-14.4,-23.6 1,-21.5 -6.1,-9.1" fill="#d3eaf7"/></g>
<g transform="translate(714.9,804.9) rotate(-44)"><text x="0" y="0" font-size="46" font-weight="bold" fill="#d9d9d9" stroke="#d9d9d9" stroke-width="1.6">Fix</text><g transform="translate(68,0) scale(1.06)" stroke="#e2e2e2"><path d="M17,-27 C14,-31 3,-32 1.5,-25 C0,-17 19,-16 19,-7.5 C19,1 4,2 1,-4 M24,-10 L41,-10 C41,-18 37,-21.5 32.5,-21.5 C27,-21.5 24,-16.5 24,-10 C24,-3.5 28,0.5 33,0.5 C36,0.5 39,-1 40.5,-4 M47,0.5 L47,-21 M47,-12 C48,-18 51,-21 56,-21 M58,-21 L66.5,0.5 L75,-21 M81,0.5 L81,-21 M81,-28.5 L81,-27.5 M99,-18 C97,-21.5 87,-22.5 87,-16 C87,-10 100,-11 100,-5 C100,1.5 88,1.5 85.5,-3" fill="none" stroke-width="1.8" stroke-linecap="round"/></g></g>
<g transform="translate(680.4,821.9)"><path d="M7.5,-16 A17.7,17.7 0 1 1 -7.5,-16" fill="none" stroke="#d3eaf7" stroke-width="4.6"/><polygon points="-14.4,-23.6 1,-21.5 -6.1,-9.1" fill="#d3eaf7"/></g>
</g></svg>

<svg width="680" height="680" viewBox="0 0 680 680">
 <g stroke="#555" stroke-width="2.1" fill="none">
  <line x1="116" y1="105.5" x2="265.6" y2="105.5"/>
  <line x1="415" y1="105.5" x2="525.5" y2="105.5"/>
  <line x1="116" y1="177.9" x2="265.6" y2="177.9"/>
  <line x1="415" y1="177.9" x2="525.5" y2="177.9"/>
  <line x1="116" y1="338.6" x2="265.6" y2="338.6"/>
  <line x1="415" y1="338.6" x2="525.5" y2="338.6"/>
  <line x1="153.7" y1="455.9" x2="265.6" y2="455.9"/>
  <line x1="415" y1="455.9" x2="496.1" y2="455.9"/>
  <line x1="116" y1="576.2" x2="225.5" y2="576.2"/>
  <line x1="455" y1="576.2" x2="525.5" y2="576.2"/>
  <line x1="167.5" y1="640.8" x2="225.5" y2="640.8"/>
  <line x1="455" y1="640.8" x2="495.6" y2="640.8"/>
  <polyline points="108,374.6 144.6,374.6 144.6,534.8 108,534.8"/>
  <line x1="108" y1="429.3" x2="144.6" y2="429.3"/>
  <line x1="108" y1="481.2" x2="144.6" y2="481.2"/>
  <polyline points="541.2,375 505,375 505,535.5 541.2,535.5"/>
  <line x1="505" y1="429.4" x2="541.2" y2="429.4"/>
  <line x1="505" y1="481.6" x2="541.2" y2="481.6"/>
 </g>
 <g fill="#555">
  <polygon points="109,105.5 118,100.3 118,110.7"/>
  <polygon points="532.5,105.5 523.5,100.3 523.5,110.7"/>
  <polygon points="109,177.9 118,172.70000000000002 118,183.1"/>
  <polygon points="532.5,177.9 523.5,172.70000000000002 523.5,183.1"/>
  <polygon points="109,338.6 118,333.40000000000003 118,343.8"/>
  <polygon points="532.5,338.6 523.5,333.40000000000003 523.5,343.8"/>
  <polygon points="146.7,455.9 155.7,450.7 155.7,461.09999999999997"/>
  <polygon points="503.1,455.9 494.1,450.7 494.1,461.09999999999997"/>
  <polygon points="109,576.2 118,571.0 118,581.4000000000001"/>
  <polygon points="532.5,576.2 523.5,571.0 523.5,581.4000000000001"/>
  <polygon points="160.5,640.8 169.5,635.5999999999999 169.5,646.0"/>
  <polygon points="502.6,640.8 493.6,635.5999999999999 493.6,646.0"/>
 </g>
</svg>

<div class="box" style="left:264.5px;top:85.5px;width:152px;height:39.5px"></div>
<div class="lbl" style="left:275px;top:94px;letter-spacing:-0.08px">Docking Station</div>
<div class="box" style="left:264.5px;top:157.5px;width:152px;height:39px"></div>
<div class="lbl" style="left:288.5px;top:166.5px;letter-spacing:0.15px">Crevice Tool</div>
<div class="box" style="left:264.5px;top:318.5px;width:152px;height:39.5px"></div>
<div class="lbl" style="left:270.5px;top:327px">Vacuum Cleaner</div>
<div class="box" style="left:264.5px;top:436px;width:152px;height:39px"></div>
<div class="lbl" style="left:273px;top:444px;letter-spacing:0.03px">Accessory Tools</div>
<div class="box" style="left:224.5px;top:556.5px;width:232px;height:38.5px"></div>
<div class="lbl" style="left:236.5px;top:564.5px;letter-spacing:-0.08px">Soft Roller Cleaner Head</div>
<div class="box" style="left:224.5px;top:620.5px;width:232px;height:38.5px"></div>
<div class="lbl" style="left:230.5px;top:628.5px;letter-spacing:-0.12px">Direct Drive Cleaner Head</div>


<div class="pill"></div>
<div class="ht">Hold 8+ accessories</div>
</div>
</body></html>
